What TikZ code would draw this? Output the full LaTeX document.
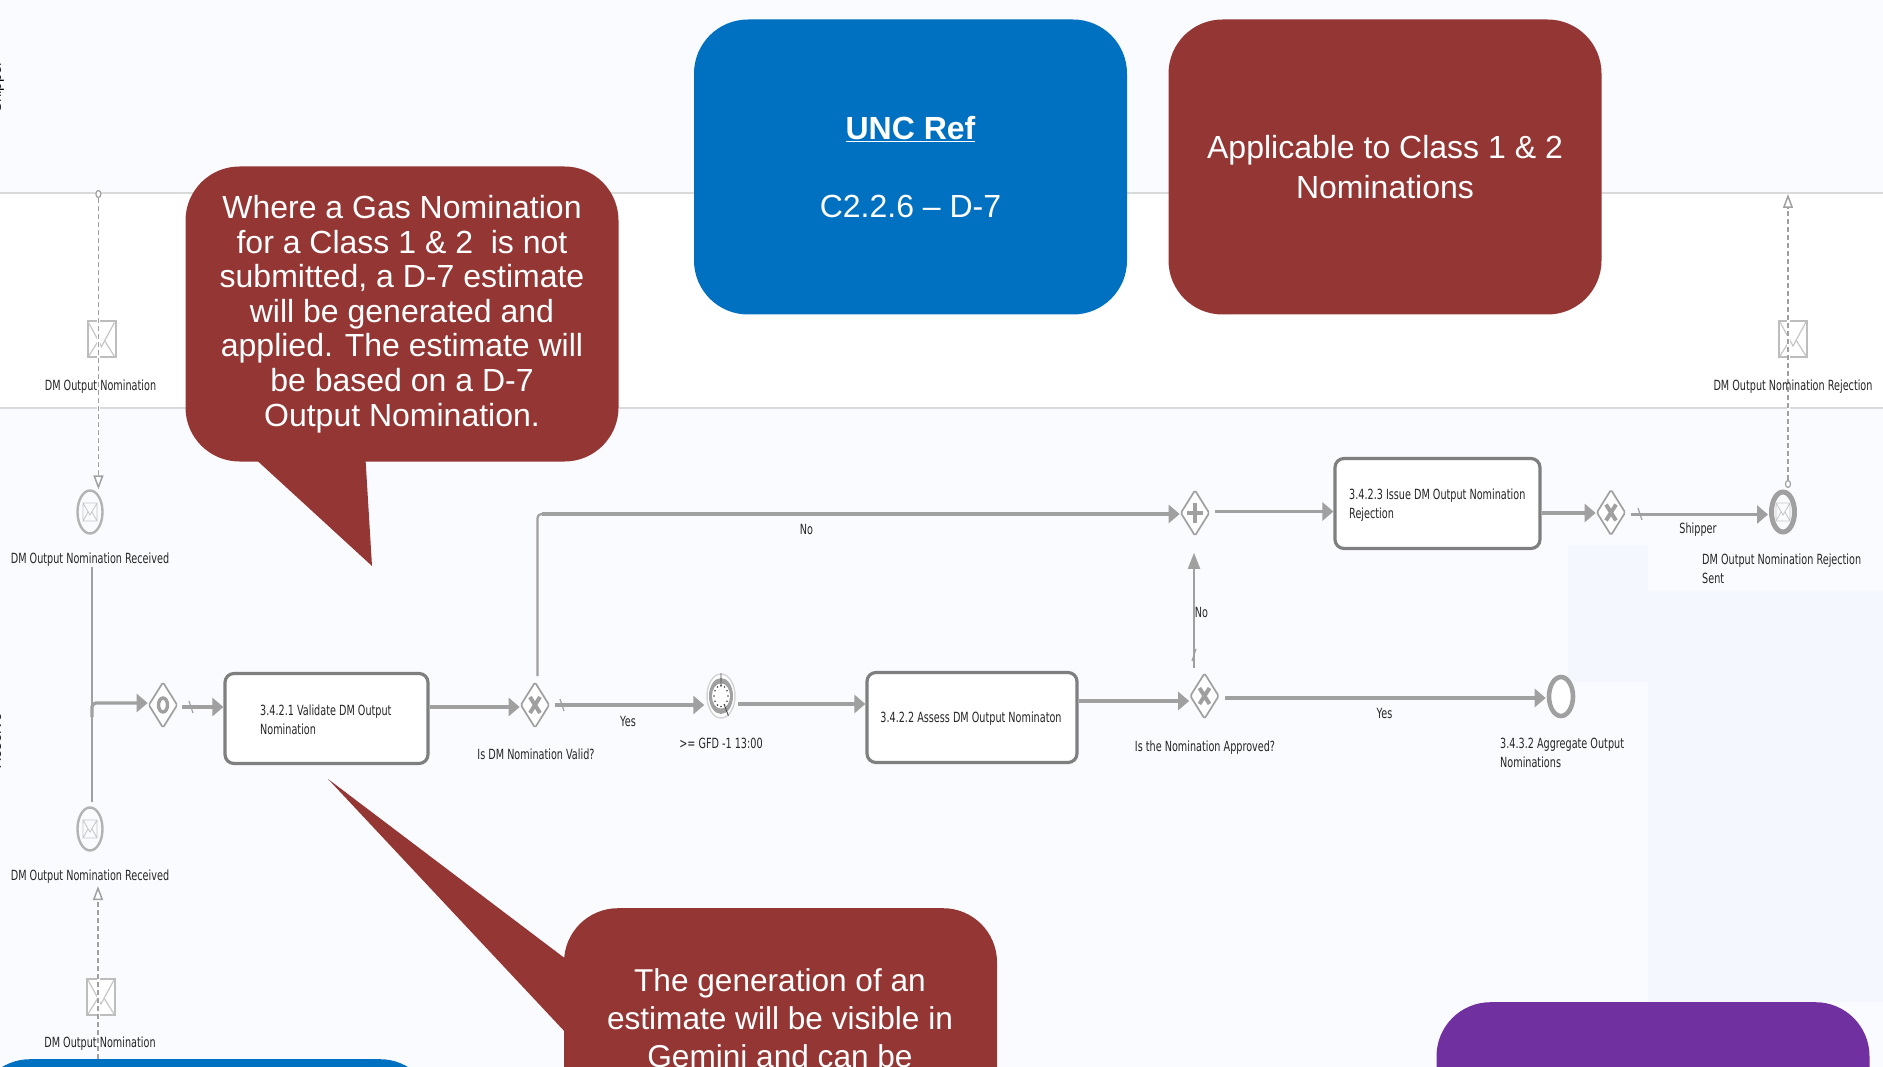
\documentclass[tikz,border=0pt]{standalone}
\usepackage{fontspec}
\usetikzlibrary{arrows.meta, shapes.geometric, calc}
\setmainfont{Liberation Sans}
\newfontfamily\bpmnfont[FakeStretch=0.69]{DejaVu Sans}
\definecolor{pageblue}{HTML}{FAFBFE}
\definecolor{paleblue}{HTML}{F4F7FE}
\definecolor{laneline}{HTML}{D9DADA}
\definecolor{flowgray}{HTML}{A0A0A0}
\definecolor{taskline}{HTML}{7F7F7F}
\definecolor{calloutred}{HTML}{943634}
\definecolor{uncblue}{HTML}{0070C0}
\definecolor{notepurple}{HTML}{7030A0}
\tikzset{
  notebox/.style={rounded corners=54pt, minimum width=433pt, minimum height=295pt, inner sep=0pt, text=white, align=center, font=\fontsize{32}{39.5}\selectfont},
  bpmntext/.style={inner sep=0pt, text=black!85, align=left, font=\bpmnfont\fontsize{14}{19}\selectfont},
  lanetext/.style={rotate=90, anchor=base, inner sep=0pt, font=\fontsize{15}{18}\selectfont},
  taskbox/.style={draw=taskline, line width=3.2pt, fill=white, rounded corners=9pt, minimum width=203pt, minimum height=90pt, inner sep=0pt},
  gateway/.style={diamond, draw=flowgray, line width=1.7pt, rounded corners=1.5pt, fill=white, aspect=0.63, minimum width=29pt, minimum height=46pt, inner sep=0pt},
  msgevent/.style={ellipse, draw=flowgray!80, line width=2.4pt, fill=pageblue, minimum width=25pt, minimum height=43pt, inner sep=0pt},
  envbox/.style={draw=flowgray!70, line width=2pt, fill=white, minimum width=28pt, minimum height=36pt, inner sep=0pt},
  msgport/.style={ellipse, draw=flowgray, line width=1.2pt, fill=white, minimum width=5pt, minimum height=7pt, inner sep=0pt},
  flow/.style={draw=flowgray, line width=3.2pt, -{Triangle[length=11pt, width=18pt]}},
  flowup/.style={draw=flowgray, line width=2pt, -{Triangle[length=16pt, width=12pt]}},
  flowbare/.style={draw=flowgray, line width=2.2pt},
  msgflow/.style={draw=flowgray, line width=1.5pt, dashed, dash pattern=on 5pt off 3pt, preaction={draw=white, line width=3pt, solid, -}, -{Triangle[open, length=14pt, width=10pt]}},
  flowslash/.style={draw=flowgray, line width=1.2pt},
  gwmark/.style={draw=flowgray, line width=4pt},
  envlines/.pic={
    \draw[flowgray!60, line width=1.2pt] (-13,-17) -- (0,7) -- (13,-17) (-13,17) -- (-3,1) (13,17) -- (3,1);
  },
  minienv/.pic={
    \draw[flowgray!60, line width=.8pt] (-7,-9) rectangle (7,9) (-7,-9) -- (0,3) -- (7,-9) (-7,9) -- (-2,0) (7,9) -- (2,0);
  },
  gwcross/.pic={
    \draw[gwmark] (-5,-8) -- (5,8) (-5,8) -- (5,-8);
  },
  gwplus/.pic={
    \draw[gwmark] (-8,0) -- (8,0) (0,-10) -- (0,10);
  }
}
\begin{document}
\begin{tikzpicture}[x=1pt, y=-1pt]
    \useasboundingbox (0,0) rectangle (1883,1067);
    \clip (0,0) rectangle (1883,1067);
    % lanes
    \fill[pageblue] (0,0) rectangle (1883,1067);
    \fill[white] (0,193) rectangle (1883,408);
    \fill[paleblue] (1568,545) rectangle (1648,682);
    \fill[paleblue] (1648,591) rectangle (1883,1002);
    \draw[laneline, line width=2.6pt] (0,193) -- (1883,193);
    \draw[laneline, line width=2.6pt] (0,408) -- (1883,408);
    \node[lanetext] (laneShipper) at (1,87) {Shipper};
    \node[lanetext] (laneXoserve) at (1,741) {Xoserve};

    % tasks
    \node[taskbox] (taskValidate) at (326.5,718.5) {};
    \node[taskbox, minimum width=210pt] (taskAssess) at (972,717.5) {};
    \node[taskbox, minimum width=205pt] (taskIssue) at (1437.5,503.5) {};
    \node[bpmntext, anchor=west] (txtValidate) at (260,720) {3.4.2.1 Validate DM Output\\Nomination};
    \node[bpmntext] (txtAssess) at (971,718.5) {3.4.2.2 Assess DM Output Nominaton};
    \node[bpmntext, anchor=west] (txtIssue) at (1349,505.5) {3.4.2.3 Issue DM Output Nomination\\Rejection};

    % gateways
    \node[gateway] (gwStart) at (163,705) {};
    \node[gateway] (gwValid) at (535,705) {};
    \node[gateway] (gwJoin) at (1195,513) {};
    \node[gateway] (gwApproved) at (1204.5,696) {};
    \node[gateway] (gwReject) at (1611,512.5) {};
    \draw[flowgray, line width=3.4pt] (gwStart) ellipse (4.5 and 7);
    \foreach \gw in {gwValid, gwApproved, gwReject}
        \pic at (\gw) {gwcross};
    \pic at (gwJoin) {gwplus};

    % events
    \node[msgevent] (evRecvTop) at (90,512) {};
    \node[msgevent] (evRecvLow) at (90,829) {};
    \node[msgevent, draw=flowgray, line width=5pt, minimum width=23pt, minimum height=40pt] (evRejSent) at (1783,512) {};
    \node[msgevent, draw=flowgray, line width=4.6pt, fill=white, minimum width=24pt, minimum height=39pt] (evAggregate) at (1561,696.5) {};
    \foreach \ev in {evRecvTop, evRecvLow, evRejSent}
        \pic at (\ev) {minienv};
    \node[msgevent, draw=flowgray!45, line width=1.4pt, fill=white, minimum width=28pt, minimum height=44pt] (evTimer) at (721,696) {};
    \fill[flowgray] (evTimer) ellipse (12 and 18);
    \fill[white] (evTimer) ellipse (9 and 12.5);
    \foreach \a in {0,30,...,330}
        \fill[black!75] ($(evTimer)+(\a:7 and 10.5)$) circle (.9);
    \draw[black!70, line width=.9pt] ($(evTimer)+(0,-9)$) -- (evTimer) -- ($(evTimer)+(3,8)$);

    % envelopes
    \node[envbox] (envShipperA) at (101.5,339.5) {};
    \node[envbox] (envShipperB) at (101,997) {};
    \node[envbox] (envShipperC) at (1793,339) {};
    \foreach \env in {envShipperA, envShipperB, envShipperC}
        \pic at (\env) {envlines};

    % sequence flows
    \coordinate (busTop) at (92,567);
    \coordinate (busLow) at (92,802);
    \coordinate (busMid) at (92,703);
    \coordinate (validUp) at (537.5,676);
    \coordinate (validCorner) at (537.5,514);
    \draw[flowbare] (busTop) -- (busLow);
    \draw[flow, rounded corners=4pt] ($(busMid)+(0,14)$) -- (busMid) -- (gwStart.west |- busMid);
    \draw[flow, shorten <=4pt] (gwStart.east |- 0,707) -- (taskValidate.west |- 0,707);
    \draw[flow] (taskValidate.east |- 0,707) -- (gwValid.west |- 0,707);
    \draw[flowbare, rounded corners=4pt] (validUp) -- (validCorner) -- ($(validCorner)+(6,0)$);
    \draw[flow] ($(validCorner)+(4,0)$) -- (gwJoin.west |- validCorner);
    \draw[flow, shorten <=5pt, shorten >=2pt] (gwValid.east) -- (evTimer.west |- 0,705);
    \draw[flow, shorten <=2pt] (evTimer.east |- 0,704) -- (taskAssess.west |- 0,704);
    \draw[flow] (taskAssess.east |- 0,701) -- (gwApproved.west |- 0,701);
    \draw[flowup] ($(gwApproved.north)+(-10.5,-4)$) -- ($(gwJoin.south)+(-1,16)$);
    \draw[flow, shorten <=5pt, shorten >=1pt] (gwApproved.east |- 0,698) -- (evAggregate.west |- 0,698);
    \draw[flow, shorten <=5pt] (gwJoin.east |- 0,511.5) -- (taskIssue.west |- 0,511.5);
    \draw[flow] (taskIssue.east |- 0,513) -- (gwReject.west |- 0,513);
    \draw[flow, shorten <=5pt, shorten >=1pt] (gwReject.east |- 0,514.5) -- (evRejSent.west |- 0,514.5);
    \draw[flowslash] (189,701) -- (193,713);
    \draw[flowslash] (560,699) -- (564,711);
    \draw[flowslash] (1638,508) -- (1642,520);
    \draw[flowslash] (1192,661) -- (1196,649);

    % message flows
    \node[msgport] (portShipperA) at (98.4,194) {};
    \node[msgport] (portRejSent) at (1788,484) {};
    \coordinate (portLow) at (98,1067);
    \coordinate (portRecvLow) at (98,886);
    \coordinate (portShipperC) at (1788,194);
    \draw[msgflow] (portShipperA.south) -- (portShipperA.south |- evRecvTop.north);
    \draw[msgflow] (portLow) -- (portRecvLow);
    \draw[msgflow] (portRejSent.north) -- (portShipperC);

    % labels
    \node[bpmntext] (lblNomA) at (100.5,386.5) {DM Output Nomination};
    \node[bpmntext] (lblRecvTop) at (90,559.5) {DM Output Nomination Received};
    \node[bpmntext] (lblRecvLow) at (90,877) {DM Output Nomination Received};
    \node[bpmntext] (lblNomB) at (100,1044) {DM Output Nomination};
    \node[bpmntext] (lblNomRej) at (1793,386.5) {DM Output Nomination Rejection};
    \node[bpmntext, anchor=west] (lblRejSent) at (1702,568.5) {DM Output Nomination Rejection\\Sent};
    \node[bpmntext, anchor=west] (lblAggregate) at (1500,752.5) {3.4.3.2 Aggregate Output\\Nominations};
    \node[bpmntext] (lblValid) at (536,754.5) {Is DM Nomination Valid?};
    \node[bpmntext] (lblApproved) at (1205,747.5) {Is the Nomination Approved?};
    \node[bpmntext] (lblTimer) at (721,743.5) {>= GFD -1 13:00};
    \node[bpmntext] (lblNoTop) at (806.5,529.5) {No};
    \node[bpmntext] (lblNoUp) at (1201.5,612.5) {No};
    \node[bpmntext] (lblYesA) at (628,721) {Yes};
    \node[bpmntext] (lblYesB) at (1384.5,713.5) {Yes};
    \node[bpmntext] (lblShipper) at (1698,530) {Shipper};

    % notes
    \node[notebox, fill=uncblue] (noteUnc) at (910.5,167) {\underline{\textbf{UNC Ref}}\\[38pt]C2.2.6 -- D-7};
    \node[notebox, fill=calloutred] (noteClass) at (1385,167) {Applicable to Class 1 \& 2\\Nominations};
    \node[notebox, fill=calloutred, font=\fontsize{32}{34.6}\selectfont] (noteGas) at (402,314) {Where a Gas Nomination\\for a Class 1 \& 2~~is not\\submitted, a D-7 estimate\\will be generated and\\applied. The estimate will\\be based on a D-7\\Output Nomination.};
    \coordinate (tipGas) at (372,566);
    \fill[calloutred] ($(noteGas.south west)+(66.5,-6)$) -- (tipGas) -- ($(noteGas.south west)+(180,-6)$) -- cycle;
    \node[notebox, fill=calloutred, anchor=north] (noteEst) at (780.5,908) {};
    \node[text=white, inner sep=0pt, align=center, font=\fontsize{31.6}{38}\selectfont, anchor=north] (txtEst) at (780,968) {The generation of an\\estimate will be visible in\\Gemini and can be};
    \coordinate (tipEst) at (328,779);
    \fill[calloutred] (tipEst) -- ($(noteEst.north west)+(6,54)$) -- ($(noteEst.north west)+(6,129)$) -- cycle;
    \node[notebox, fill=uncblue, anchor=north, minimum width=458pt] (noteBlueLow) at (205,1059) {};
    \node[notebox, fill=notepurple, anchor=north] (notePurple) at (1653,1002) {};
\end{tikzpicture}
\end{document}
